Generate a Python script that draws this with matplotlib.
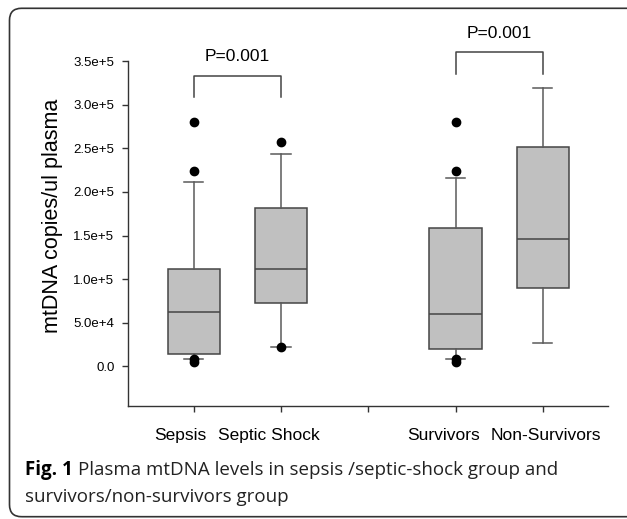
import numpy as np
import matplotlib
matplotlib.use("Agg")
import matplotlib.pyplot as plt
from matplotlib.patches import FancyBboxPatch
from matplotlib.transforms import ScaledTranslation

# Box plot statistics (mtDNA copies/ul plasma)
groups = ["Sepsis", "Septic Shock", "Survivors", "Non-Survivors"]
positions = [1, 2, 4, 5]
q1 = [14000, 73000, 20000, 90000]
medians = [62000, 112000, 60000, 146000]
q3 = [112000, 181000, 159000, 252000]
whisk_lo = [9000, 22000, 9000, 27000]
whisk_hi = [211000, 244000, 216000, 319000]
outliers = [[280000, 224000, 8500, 5000],
            [257000, 22000],
            [280000, 224000, 8500, 5000],
            []]

# significance brackets: (group a, group b, bracket top, label)
brackets = [(0, 1, 333000, "P=0.001"),
            (2, 3, 360000, "P=0.001")]

yticks = [0, 50000, 100000, 150000, 200000, 250000, 300000, 350000]

plt.rcParams["font.family"] = ["Liberation Sans", "DejaVu Sans"]

W, H, DPI = 627, 519, 100
fig = plt.figure(figsize=(W / DPI, H / DPI), dpi=DPI)
ax = fig.add_axes([128.3 / W, 1 - 405.7 / H, 480 / W, 344.7 / H])

stats = []
for i in range(len(groups)):
    stats.append(dict(med=medians[i], q1=q1[i], q3=q3[i],
                      whislo=whisk_lo[i], whishi=whisk_hi[i],
                      fliers=outliers[i]))

edge = "#454545"
ax.bxp(stats, positions=positions, widths=0.6, patch_artist=True,
       showfliers=True,
       boxprops=dict(facecolor="#c0c0c0", edgecolor=edge, linewidth=1.1),
       medianprops=dict(color=edge, linewidth=1.1),
       whiskerprops=dict(color="#5a5a5a", linewidth=1.1),
       capprops=dict(color="#5a5a5a", linewidth=1.1),
       capwidths=0.22,
       flierprops=dict(marker="o", markerfacecolor="black",
                       markeredgecolor="black", markersize=6))

# brackets with p values
for a, b, top, label in brackets:
    xa, xb = positions[a], positions[b]
    drop = 24500
    ax.plot([xa, xa, xb, xb], [top - drop, top, top, top - drop],
            color="#444444", linewidth=1.1, clip_on=False)
    ax.text((xa + xb) / 2, top + 22000, label, ha="center", va="center",
            fontsize=12.5, clip_on=False)


def fmt(v):
    if v == 0:
        return "0.0"
    e = int(np.floor(np.log10(v)))
    return "%.1fe+%d" % (v / 10 ** e, e)


ax.set_xlim(0.25, 5.75)
ax.set_ylim(-45000, 350000)
ax.set_yticks(yticks)
ax.set_yticklabels([fmt(v) for v in yticks], fontsize=9.5)

# ticks at every slot, group names written under them (slightly shifted as in the original)
ax.set_xticks([1, 2, 3, 4, 5])
ax.set_xticklabels([])
nudge = [-13.7, -12.2, -11.7, 3.5]
for name, pos, dx in zip(groups, positions, nudge):
    tr = ax.get_xaxis_transform() + ScaledTranslation(dx / DPI, -29.5 / DPI,
                                                      fig.dpi_scale_trans)
    ax.text(pos, 0, name, transform=tr, ha="center", va="center",
            fontsize=12.5, clip_on=False)

ax.tick_params(axis="y", direction="out", length=4, width=1, color="#333333", pad=6)
ax.tick_params(axis="x", direction="out", length=4, width=1, color="#333333")
for s in ["top", "right"]:
    ax.spines[s].set_visible(False)
for s in ["left", "bottom"]:
    ax.spines[s].set_color("#333333")
    ax.spines[s].set_linewidth(1)

ax.set_ylabel("mtDNA copies/ul plasma", fontsize=15.5)
ax.yaxis.set_label_coords(-0.135, 0.552)

# rounded frame around the whole figure (right edge falls outside the image)
frame = FancyBboxPatch((0.095, 0.023), 6.35, 5.084,
                       boxstyle="round,pad=0,rounding_size=0.12",
                       transform=fig.dpi_scale_trans, fill=False,
                       edgecolor="#333333", linewidth=1.2)
fig.patches.append(frame)

# caption
cap_font = ["Open Sans", "DejaVu Sans"]
t1 = fig.text(0.25, 0.44, "Fig. 1", fontsize=13.5, fontweight="bold",
              family=cap_font, transform=fig.dpi_scale_trans, va="baseline")
renderer = fig.canvas.get_renderer()
bb = t1.get_window_extent(renderer)
fig.text(bb.x1 / DPI + 0.05, 0.44,
         "Plasma mtDNA levels in sepsis /septic-shock group and",
         fontsize=13.5, family=cap_font, color="#222222",
         transform=fig.dpi_scale_trans, va="baseline")
fig.text(0.25, 0.17, "survivors/non-survivors group", fontsize=13.5,
         family=cap_font, color="#222222",
         transform=fig.dpi_scale_trans, va="baseline")

fig.savefig("out.png", dpi=DPI)
